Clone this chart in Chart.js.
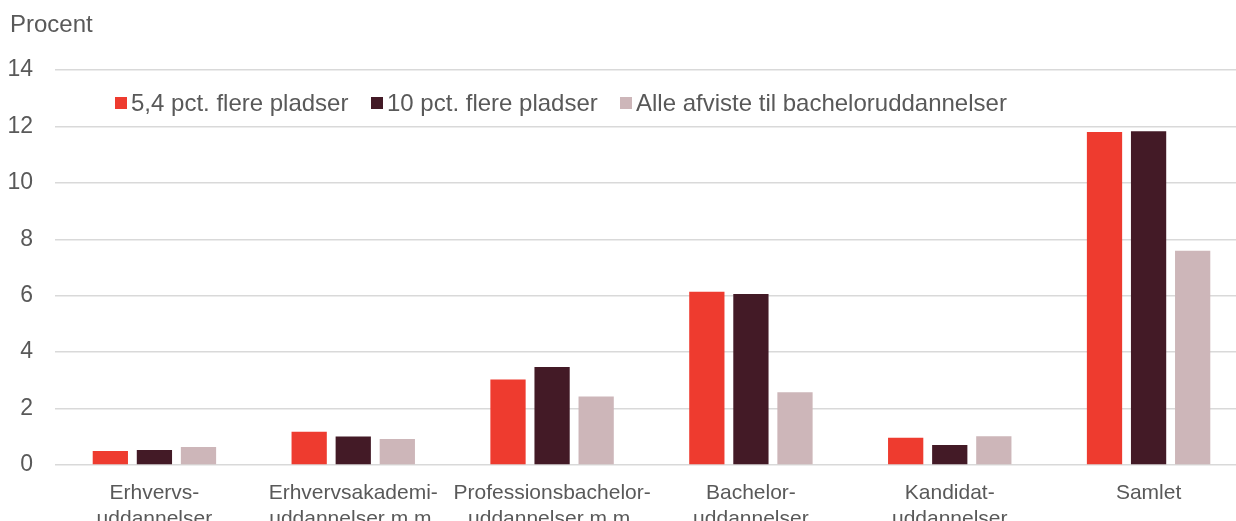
<!DOCTYPE html>
<html>
<head>
<meta charset="utf-8">
<script src="https://cdn.jsdelivr.net/npm/chart.js@4"></script>
<style>
  html, body { margin: 0; padding: 0; background: #fff; overflow: hidden; }
  #wrap { position: relative; width: 1236px; height: 521px; overflow: hidden; }
  #box { position: absolute; left: 0; top: 0; width: 1250px; height: 540px; }
  .txt { position: absolute; font-family: "Liberation Sans", Arial, sans-serif; color: #595959; white-space: nowrap; line-height: 1; }
  .sq { position: absolute; width: 12px; height: 12px; }
</style>
</head>
<body>
<div id="wrap">
  <div id="box"><canvas id="grafica"></canvas></div>
  <div class="txt" style="left:10px; top:12px; font-size:24px;">Procent</div>
  <div id="leyenda"></div>
</div>
<script>
const kategorier = [
    ['Erhvervs-', 'uddannelser'],
    ['Erhvervsakademi-', 'uddannelser m.m.'],
    ['Professionsbachelor-', 'uddannelser m.m.'],
    ['Bachelor-', 'uddannelser'],
    ['Kandidat-', 'uddannelser'],
    'Samlet'
];

const serieNavne = ['5,4 pct. flere pladser', '10 pct. flere pladser', 'Alle afviste til bacheloruddannelser'];
const pladser54 = [0.50, 1.18, 3.03, 6.14, 0.97, 11.80];
const pladser10 = [0.53, 1.01, 3.47, 6.06, 0.71, 11.83];
const alleAfviste = [0.64, 0.92, 2.43, 2.58, 1.02, 7.59];
const yTicks = [0, 2, 4, 6, 8, 10, 12, 14];

const farver = ['#ee3b2f', '#431a26', '#cdb6b9'];
const fontFam = '"Liberation Sans", Arial, sans-serif';

// legend as html, placed inside the plot like the original
const legendX = [115, 371, 620];
const $leyenda = document.querySelector('#leyenda');
serieNavne.forEach((navn, i) => {
    const sq = document.createElement('div');
    sq.className = 'sq';
    sq.style.left = legendX[i] + 'px';
    sq.style.top = '97px';
    sq.style.background = farver[i];
    $leyenda.appendChild(sq);
    const t = document.createElement('div');
    t.className = 'txt';
    t.style.left = (legendX[i] + 16) + 'px';
    t.style.top = '91px';
    t.style.fontSize = '24px';
    t.textContent = navn;
    $leyenda.appendChild(t);
});

const $grafica = document.querySelector('#grafica');

new Chart($grafica, {
    type: 'bar',
    data: {
        labels: kategorier,
        datasets: [pladser54, pladser10, alleAfviste].map((d, i) => ({
            label: serieNavne[i],
            data: d,
            backgroundColor: farver[i],
            borderWidth: 0,
            barPercentage: 0.8,
            categoryPercentage: 0.665
        }))
    },
    options: {
        responsive: true,
        maintainAspectRatio: false,
        animation: false,
        devicePixelRatio: 1,
        layout: { padding: { top: 70, left: 0, right: 2, bottom: 0 } },
        plugins: {
            legend: { display: false },
            tooltip: { enabled: false }
        },
        scales: {
            x: {
                grid: { display: false, drawTicks: false },
                border: { display: false },
                ticks: {
                    color: '#595959',
                    font: { family: fontFam, size: 21 },
                    padding: 16,
                    maxRotation: 0,
                    autoSkip: false
                },
                afterFit: s => { s.height = 75; }
            },
            y: {
                min: 0,
                max: 14,
                afterBuildTicks: s => { s.ticks = yTicks.map(v => ({ value: v })); },
                grid: { color: '#d9d9d9', lineWidth: 1.5, drawTicks: false },
                border: { display: false },
                ticks: {
                    color: '#595959',
                    font: { family: fontFam, size: 23 },
                    padding: 22
                },
                afterFit: s => { s.width = 55; }
            }
        }
    }
});
</script>
</body>
</html>
